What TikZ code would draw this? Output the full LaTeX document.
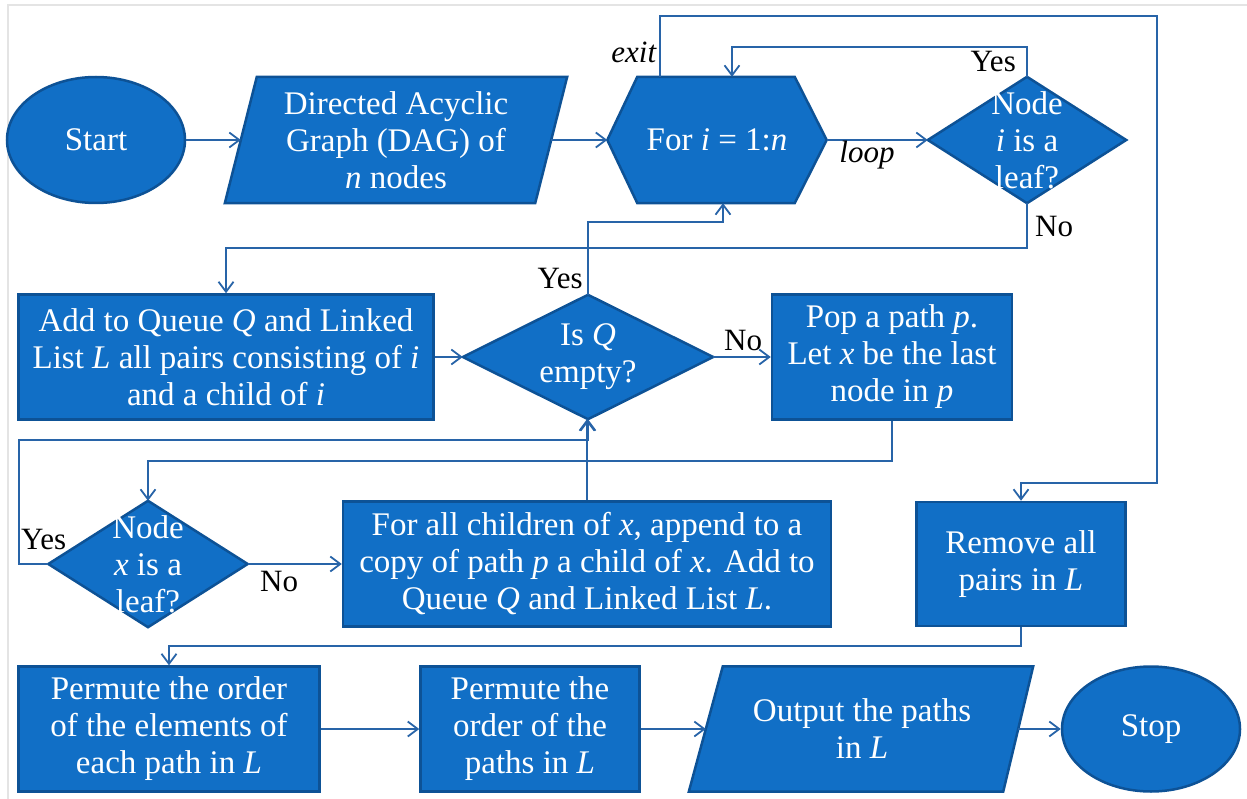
\documentclass[tikz,border=0pt]{standalone}
\usepackage{fontspec}
\setmainfont{Liberation Serif}
\usetikzlibrary{arrows.meta,shapes.geometric,backgrounds,calc}
\definecolor{boxfill}{RGB}{17,111,198}
\definecolor{boxline}{RGB}{13,82,150}
\definecolor{wire}{RGB}{40,100,168}
\definecolor{framegray}{RGB}{228,228,228}

\begin{document}
\begin{tikzpicture}[x=1pt,y=-1pt,
  txt/.style={text=white, align=center, inner sep=0pt,
    font=\fontsize{33}{37}\selectfont},
  term/.style={ellipse, txt, draw=boxline, fill=boxfill, line width=2.5pt,
    minimum width=178pt, minimum height=126pt},
  procbox/.style={rectangle, txt, draw=boxline, fill=boxfill, line width=2.5pt},
  holder/.style={rectangle, txt},
  shapefill/.style={draw=boxline, fill=boxfill, line width=2.5pt, line join=miter},
  conn/.style={draw=wire, line width=1.8pt},
  arr/.style={conn, -{Straight Barb[length=10pt,width=15pt]}},
  lbl/.style={text=black, inner sep=0pt, font=\fontsize{31}{36}\selectfont},
]
\useasboundingbox (0,0) rectangle (1247,799);

% page frame
\draw[framegray, line width=1.5pt] (8,799) -- (8,5) -- (1247,5);

% ---------- nodes ----------
\node[term] (start) at (96,140) {Start};
\node[holder, minimum width=310pt, minimum height=126pt] (dag) at (396,140)
  {Directed Acyclic\\Graph (DAG) of\\\textit{n} nodes};
\node[holder, minimum width=219pt, minimum height=126pt] (for) at (717,140)
  {For \textit{i} = 1:\textit{n}};
\node[holder, minimum width=198pt, minimum height=126pt] (leafi) at (1027,140)
  {Node\\\textit{i} is a\\leaf?};

\node[procbox, minimum width=415pt, minimum height=125pt] (add) at (226,357)
  {Add to Queue \textit{Q} and Linked\\List \textit{L} all pairs consisting of \textit{i}\\and a child of \textit{i}};
\node[holder, minimum width=250pt, minimum height=124pt] (isq) at (588,357)
  {Is \textit{Q}\\empty?};
\node[procbox, minimum width=240pt, minimum height=125pt] (pop) at (892,357)
  {Pop a path \textit{p}.\\Let \textit{x} be the last\\node in \textit{p}};

\node[holder, minimum width=199pt, minimum height=126pt] (leafx) at (148,564)
  {Node\\\textit{x} is a\\leaf?};
\node[procbox, minimum width=488pt, minimum height=125pt] (forall) at (587,564)
  {For all children of \textit{x}, append to a\\copy of path \textit{p} a child of \textit{x}. Add to\\Queue \textit{Q} and Linked List \textit{L}.};
\node[procbox, minimum width=209pt, minimum height=124pt] (remove) at (1021,564)
  {Remove all\\pairs in \textit{L}};

\node[procbox, minimum width=301pt, minimum height=125pt] (perm1) at (169,729)
  {Permute the order\\of the elements of\\each path in \textit{L}};
\node[procbox, minimum width=219pt, minimum height=125pt] (perm2) at (530,729)
  {Permute the\\order of the\\paths in \textit{L}};
\node[holder, minimum width=312pt, minimum height=125pt] (out) at (862,729)
  {Output the paths\\in \textit{L}};
\node[term, minimum height=125pt] (stop) at (1151,729) {Stop};

% ---------- outlines of the non-rectangular shapes ----------
\begin{scope}[on background layer]
  \draw[shapefill] ($(dag.north west)+(16,0)$) -- ($(dag.north east)+(16,0)$)
    -- ($(dag.south east)+(-16,0)$) -- ($(dag.south west)+(-16,0)$) -- cycle;
  \draw[shapefill] (for.west) -- ($(for.north west)+(30,0)$) -- ($(for.north east)+(-32,0)$)
    -- (for.east) -- ($(for.south east)+(-32,0)$) -- ($(for.south west)+(30,0)$) -- cycle;
  \draw[shapefill] (leafi.west) -- (leafi.north) -- (leafi.east) -- (leafi.south) -- cycle;
  \draw[shapefill] (isq.west) -- (isq.north) -- (isq.east) -- (isq.south) -- cycle;
  \draw[shapefill] (leafx.west) -- (leafx.north) -- (leafx.east) -- (leafx.south) -- cycle;
  \draw[shapefill] ($(out.north west)+(17,0)$) -- ($(out.north east)+(15,0)$)
    -- ($(out.south east)+(-15,0)$) -- ($(out.south west)+(-17,0)$) -- cycle;
\end{scope}

% ---------- bend points ----------
\coordinate (yesTop) at (732,47);
\coordinate (exA) at (660,16);
\coordinate (exB) at (1157,483);
\coordinate (noI) at (226,248);
\coordinate (yesQ) at (723,222);
\coordinate (popDown) at (148,461);
\coordinate (yesX) at (19,440);
\coordinate (remDown) at (169,646);

% ---------- connectors ----------
\draw[arr] (start.east) -- (dag.west);
\draw[arr] (dag.east) -- (for.west);
\draw[arr] (for.east) -- (leafi.west);
\draw[arr] (leafi.north) |- (yesTop) -- (yesTop |- for.north);
\draw[arr] (for.north -| exA) -- (exA) -| (exB) -| (remove.north);
\draw[arr] (leafi.south) |- (noI) -- (add.north);
\draw[arr] (add.east) -- (isq.west);
\draw[arr] (isq.north) |- (yesQ) -- (yesQ |- for.south);
\draw[arr] (isq.east) -- (pop.west);
\draw[arr] (pop.south) |- (popDown) -- (leafx.north);
\draw[arr] (leafx.west) -| (yesX) -| (isq.south);
\draw[arr] (forall.north) -- (forall.north |- isq.south);
\draw[arr] (leafx.east) -- (forall.west);
\draw[arr] (remove.south) |- (remDown) -- (perm1.north);
\draw[arr] (perm1.east) -- (perm2.west);
\draw[arr] (perm2.east) -- (out.west);
\draw[arr] (out.east) -- (stop.west);

% ---------- connector labels ----------
\node[lbl, anchor=base] (lloop) at (867,163) {\textit{loop}};
\node[lbl, anchor=base east] (lexit) at (657,63) {\textit{exit}};
\node[lbl, anchor=base east] (lyesI) at (1016,72) {Yes};
\node[lbl, anchor=base west] (lnoI) at (1035,237) {No};
\node[lbl, anchor=base east] (lyesQ) at (583,289) {Yes};
\node[lbl, anchor=base west] (lnoQ) at (724,351) {No};
\node[lbl, anchor=base west] (lyesX) at (21,549) {Yes};
\node[lbl, anchor=base west] (lnoX) at (260,591) {No};
\end{tikzpicture}
\end{document}
